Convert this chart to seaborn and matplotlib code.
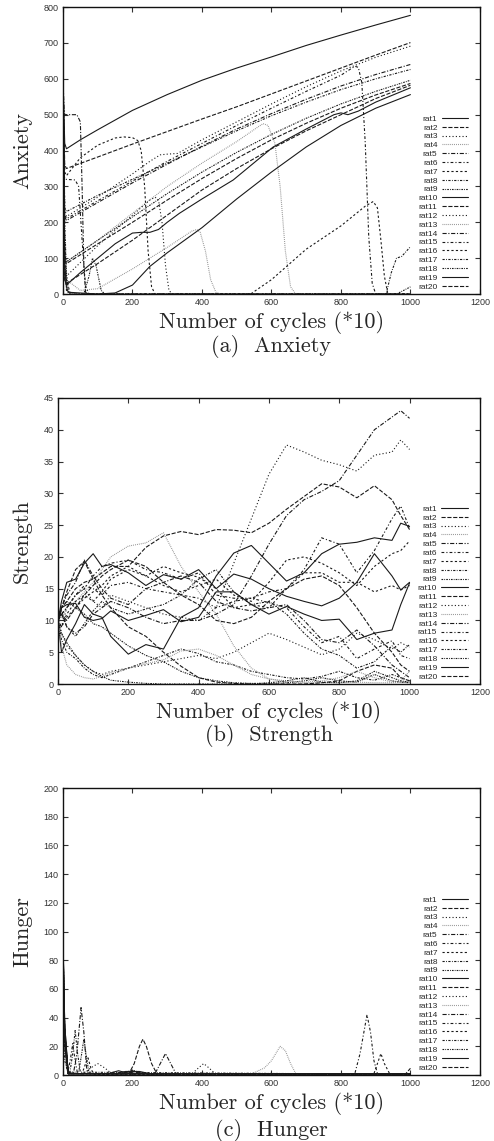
import matplotlib
matplotlib.use("Agg")
import matplotlib.pyplot as plt
import seaborn as sns

# ---------------- data ----------------
rats = ["rat%d" % i for i in range(1, 21)]

# (a) anxiety: per rat (x, y) lists
anxiety = {
    "rat1": ([0, 5, 10, 50, 100, 200, 300, 400, 500, 600, 700, 800, 900, 1000],
             [600, 420, 405, 430, 458, 512, 556, 596, 630, 661, 693, 722, 750, 777]),
    "rat2": ([0, 5, 10, 100, 200, 300, 400, 500, 600, 700, 800, 900, 1000],
             [600, 360, 350, 382, 418, 453, 488, 522, 558, 594, 630, 666, 701]),
    "rat3": ([0, 5, 10, 50, 100, 200, 250, 280, 300, 330, 400, 500, 600, 700, 800, 900, 1000],
             [600, 240, 216, 240, 270, 335, 370, 388, 390, 392, 430, 480, 530, 578, 622, 660, 691]),
    "rat4": ([0, 5, 10, 100, 200, 300, 400, 500, 560, 576, 590, 610, 625, 640, 655, 670, 1000],
             [600, 100, 90, 150, 225, 300, 365, 425, 465, 475, 470, 420, 300, 120, 20, 0, 0]),
    "rat5": ([0, 5, 10, 100, 200, 300, 400, 500, 600, 700, 800, 900, 1000],
             [600, 215, 205, 255, 310, 362, 412, 460, 503, 543, 580, 612, 640]),
    "rat6": ([0, 5, 10, 100, 200, 300, 400, 500, 600, 700, 800, 840, 850, 860, 870, 880, 890, 900, 1000],
             [600, 220, 210, 260, 315, 370, 420, 470, 518, 565, 610, 635, 632, 590, 420, 160, 30, 0, 0]),
    "rat7": ([0, 5, 10, 50, 100, 150, 175, 200, 215, 225, 235, 245, 255, 265, 1000],
             [600, 340, 330, 380, 415, 435, 438, 436, 428, 400, 300, 120, 20, 0, 0]),
    "rat8": ([0, 5, 10, 100, 200, 300, 400, 500, 600, 700, 800, 900, 1000],
             [600, 240, 230, 275, 320, 365, 410, 455, 497, 535, 570, 600, 626]),
    "rat9": ([0, 5, 10, 100, 200, 300, 400, 500, 600, 700, 800, 900, 1000],
             [600, 100, 90, 150, 215, 280, 340, 395, 445, 490, 530, 565, 596]),
    "rat10": ([0, 5, 10, 50, 100, 150, 200, 225, 250, 275, 300, 335, 400, 490, 605, 700, 780, 800, 820, 850, 900, 1000],
              [600, 40, 25, 60, 100, 140, 170, 172, 172, 180, 200, 225, 265, 318, 410, 460, 500, 505, 500, 510, 535, 575]),
    "rat11": ([0, 5, 10, 100, 200, 300, 400, 500, 600, 700, 800, 900, 1000],
              [600, 95, 85, 140, 200, 262, 322, 378, 430, 476, 518, 555, 587]),
    "rat12": ([0, 5, 10, 100, 200, 250, 265, 275, 285, 295, 305, 315, 1000],
              [600, 60, 50, 135, 220, 262, 270, 262, 200, 80, 10, 0, 0]),
    "rat13": ([0, 5, 10, 50, 100, 200, 300, 370, 385, 395, 410, 425, 440, 455, 1000],
              [600, 60, 40, 10, 15, 70, 130, 175, 180, 172, 120, 40, 5, 0, 0]),
    "rat14": ([0, 3, 5, 40, 50, 55, 60, 65, 70, 1000],
              [600, 520, 500, 500, 480, 300, 80, 5, 0, 0]),
    "rat15": ([0, 3, 5, 35, 45, 55, 65, 75, 1000],
              [600, 340, 320, 318, 300, 150, 20, 0, 0]),
    "rat16": ([0, 5, 10, 20, 30, 540, 600, 700, 800, 870, 893, 905, 915, 925, 935, 1000],
              [600, 150, 40, 5, 0, 0, 40, 125, 190, 245, 258, 240, 150, 50, 0, 0]),
    "rat17": ([0, 5, 10, 20, 930, 945, 960, 975, 1000],
              [600, 100, 10, 0, 0, 60, 100, 105, 132]),
    "rat18": ([0, 5, 10, 15, 20, 60, 75, 85, 95, 110, 120, 960, 1000],
              [600, 200, 60, 10, 0, 0, 50, 100, 80, 10, 0, 0, 20]),
    "rat19": ([0, 5, 10, 15, 100, 150, 200, 250, 300, 400, 500, 600, 700, 800, 900, 1000],
              [600, 80, 20, 5, 0, 3, 25, 77, 115, 185, 265, 340, 410, 470, 518, 556]),
    "rat20": ([0, 5, 10, 100, 200, 300, 400, 500, 600, 700, 800, 900, 1000],
              [600, 40, 30, 85, 150, 220, 290, 350, 405, 455, 500, 545, 582]),
}

# (b) strength: shared x grid
strength_x = [0, 10, 25, 50, 75, 100, 125, 150, 200, 250, 300, 350, 400, 450, 500,
              550, 600, 650, 700, 750, 800, 850, 900, 950, 975, 1000]
strength = {
    "rat1": [10, 13, 16, 16.5, 19, 20.5, 18.5, 18.8, 17.5, 15.5, 17.2, 16.5, 18, 15, 17.3, 16.5, 15, 13.8, 13, 12.3, 13.5, 16, 20.5, 17, 14.8, 16],
    "rat2": [10, 12, 13, 15, 16, 16.5, 17.5, 18.5, 18.5, 21.5, 23.3, 24, 23.5, 24.3, 24.2, 23.8, 25.3, 27.5, 29.5, 31.5, 31, 29.3, 31.2, 29, 26.5, 24.3],
    "rat3": [10, 9, 12, 14, 15, 13, 12, 14, 13, 12, 11, 10.5, 10, 12, 19, 26, 33, 37.6, 36.5, 35.2, 34.5, 33.5, 36, 36.5, 38.4, 36.9],
    "rat4": [10, 10.5, 12, 13, 14.5, 16, 18, 20, 21.7, 22.2, 23.8, 18.5, 14.5, 11, 6, 2.5, 0.8, 0.3, 0.2, 0.2, 0.2, 0.3, 0.2, 0.2, 0.3, 0.3],
    "rat5": [10, 12, 14, 16, 19.5, 17, 15, 13.5, 12.5, 15, 16, 17, 16, 13, 12, 11.5, 12, 12.5, 10, 7, 6.5, 8.5, 6, 3, 2, 1],
    "rat6": [10, 11, 12, 14, 15.5, 15, 14, 15.5, 16, 15, 14.5, 14, 13.5, 12, 13, 13.5, 14.5, 15, 18, 23, 22, 17.5, 21, 26, 28, 24.5],
    "rat7": [10, 9, 11, 13, 14, 13, 14.5, 16.5, 18, 17, 18.5, 17.5, 16.8, 15, 12, 12.5, 12, 15, 17.5, 17.5, 16, 16, 14.5, 15.5, 14.8, 15.5],
    "rat8": [10, 7, 5, 4, 2.5, 1.5, 1, 1.5, 2.5, 3.5, 4.5, 5.5, 4.8, 3.5, 3, 2, 1.5, 1, 0.8, 1.2, 2, 1, 0.6, 1.5, 1, 0.5],
    "rat9": [10, 12, 13, 12, 11, 9.5, 9, 8, 6, 4.5, 3.5, 2, 1, 0.5, 0.2, 0.1, 0.1, 0.2, 0.5, 1, 0.5, 0.3, 1.5, 0.5, 0.3, 0.2],
    "rat10": [10, 5, 7, 9.5, 12.5, 11, 10.5, 7.5, 4.7, 6.2, 5.5, 10.5, 12, 17, 20.6, 21.8, 19, 16.2, 17.5, 20.5, 22, 22.3, 23, 22.6, 25.3, 24.8],
    "rat11": [10, 12, 14.5, 18, 19.3, 16.5, 14, 12, 9, 7.5, 5, 2.8, 1, 0.3, 0.1, 0, 0, 0, 0, 0.2, 0.5, 2, 3, 2.5, 1, 0.5],
    "rat12": [10, 8, 6, 4.5, 3, 2, 1.5, 2, 2.5, 3, 3.5, 4, 4.5, 4, 5, 6.5, 8, 7, 5.8, 4.6, 5.5, 8, 7, 5.5, 6.5, 5.8],
    "rat13": [10, 6, 3, 1.5, 1, 0.8, 1.2, 1.8, 2.5, 3.2, 3.8, 5.2, 5.5, 4.5, 3, 1.5, 0.8, 0.5, 0.3, 0.5, 1, 2, 1, 0.3, 0.5, 2],
    "rat14": [10, 11, 9, 8, 9, 11, 12, 13, 12, 10.5, 9.5, 10, 10, 11, 12.5, 17, 22, 26.5, 29, 30.3, 32, 36, 40, 42, 43, 41.8],
    "rat15": [10, 11, 12, 14, 15, 17, 18.5, 19, 19.5, 18, 17.5, 16.5, 17.5, 14, 13.5, 13.5, 12.8, 12, 9, 6.5, 7.5, 4, 5.5, 6.8, 4.5, 4],
    "rat16": [10, 9, 10.5, 12, 13.5, 14.5, 15.5, 17, 18.5, 17, 15.5, 14.5, 15.5, 16.5, 14, 13, 16, 19.5, 20, 19, 17.5, 15.5, 18.5, 20.5, 21, 22.5],
    "rat17": [10, 11.5, 9, 7.5, 9.5, 11.5, 13, 12, 11, 11.8, 12.5, 14, 16.5, 18, 14.5, 12.5, 13, 11, 8, 5.5, 4.5, 2.5, 3.5, 6, 5, 6.2],
    "rat18": [10, 8, 6.5, 4.5, 3, 2, 1.2, 0.6, 0.3, 0.1, 0, 0, 0, 0, 0, 0, 0.2, 0.5, 1, 0.3, 0.2, 0.5, 2, 1, 0.5, 0.3],
    "rat19": [10, 12, 12.5, 12.7, 10.5, 10, 10.3, 11.5, 10, 10.8, 11.7, 9.8, 10.5, 14.5, 14.5, 12.5, 11, 12.2, 11, 10, 10.2, 7, 8, 8.5, 12.5, 15.9],
    "rat20": [10, 11, 10, 12, 14, 15.5, 17, 18, 19.5, 18.5, 16, 14, 12.5, 10, 9.5, 10.5, 13, 15, 16.5, 17, 15.5, 12, 8, 5, 3, 2],
}

# (c) hunger: per rat (x, y) lists
hunger = {
    "rat1": ([0, 5, 15, 150, 180, 220, 250, 1000], [95, 30, 1, 1, 2.5, 2.5, 1, 1]),
    "rat2": ([0, 5, 15, 190, 205, 220, 230, 240, 255, 270, 1000], [90, 30, 1, 1, 8, 20, 25, 20, 8, 1, 1]),
    "rat3": ([0, 5, 15, 60, 80, 100, 120, 140, 1000], [85, 25, 1, 1, 5, 8, 5, 1, 0.8]),
    "rat4": ([0, 5, 15, 540, 580, 600, 625, 640, 655, 670, 1000], [60, 20, 1, 0.5, 5, 10, 20, 17, 8, 1, 0.5]),
    "rat5": ([0, 5, 15, 30, 40, 52, 60, 68, 75, 1000], [92, 30, 2, 1, 15, 47, 30, 5, 1, 0.7]),
    "rat6": ([0, 5, 15, 840, 855, 875, 885, 895, 905, 1000], [70, 25, 1, 1, 15, 42, 30, 10, 1, 1]),
    "rat7": ([0, 5, 15, 895, 905, 915, 925, 940, 1000], [88, 30, 1, 1, 8, 15, 8, 1, 0.5]),
    "rat8": ([0, 5, 12, 20, 28, 35, 42, 50, 1000], [50, 20, 3, 2, 15, 31, 15, 2, 0.5]),
    "rat9": ([0, 5, 15, 45, 52, 60, 68, 75, 1000], [75, 25, 2, 2, 12, 25, 12, 1, 0.8]),
    "rat10": ([0, 5, 15, 170, 200, 230, 1000], [93, 35, 1, 1, 3, 1, 1]),
    "rat11": ([0, 5, 15, 985, 1000], [80, 25, 1, 0.5, 4.7]),
    "rat12": ([0, 5, 15, 370, 390, 405, 420, 440, 1000], [65, 20, 1, 0.5, 5, 8, 5, 0.5, 0.5]),
    "rat13": ([0, 5, 15, 1000], [40, 12, 1, 0.8]),
    "rat14": ([0, 5, 15, 265, 280, 295, 310, 325, 1000], [90, 30, 1, 1, 8, 15, 8, 1, 1]),
    "rat15": ([0, 5, 15, 22, 28, 35, 42, 1000], [55, 20, 3, 12, 22, 10, 1, 0.6]),
    "rat16": ([0, 5, 15, 55, 65, 72, 80, 88, 1000], [85, 30, 1, 1, 8, 12, 5, 0.5, 0.5]),
    "rat17": ([0, 5, 15, 170, 200, 230, 1000], [30, 10, 1, 1, 3.5, 1, 0.8]),
    "rat18": ([0, 5, 15, 1000], [70, 20, 1, 0.3]),
    "rat19": ([0, 5, 15, 130, 160, 190, 1000], [94, 35, 1, 1, 3, 1, 1]),
    "rat20": ([0, 5, 15, 1000], [78, 25, 1, 1]),
}

# ---------------- style ----------------
sns.set_style("ticks")
plt.rcParams["font.family"] = ["Liberation Sans", "DejaVu Sans"]
plt.rcParams["lines.scale_dashes"] = False

styles = [
    "-",
    (0, (3.0, 1.2)),
    (0, (0.8, 1.6)),
    (0, (0.6, 0.8)),
    (0, (3.0, 1.2, 0.8, 1.2)),
    (0, (2.0, 1.5, 0.8, 1.5)),
    (0, (1.6, 1.6)),
    (0, (1.6, 1.0, 0.6, 1.0)),
    (0, (1.2, 0.8, 0.6, 0.8)),
]


def rat_style(i):
    ls = styles[i % 9]
    col = "#8a8a8a" if i % 9 == 3 else "#1a1a1a"
    return ls, col


fig = plt.figure(figsize=(4.94, 11.41), dpi=100)
ax_a = fig.add_axes([0.1275, 0.7423, 0.844, 0.2515])
ax_b = fig.add_axes([0.1174, 0.4005, 0.854, 0.2507])
ax_c = fig.add_axes([0.1275, 0.0578, 0.844, 0.2515])

for i, r in enumerate(rats):
    ls, col = rat_style(i)
    xs, ys = anxiety[r]
    sns.lineplot(x=xs, y=ys, ax=ax_a, color=col, linestyle=ls, lw=0.8,
                 estimator=None, sort=False, label=r)
    sns.lineplot(x=strength_x, y=strength[r], ax=ax_b, color=col, linestyle=ls,
                 lw=0.8, estimator=None, sort=False, label=r)
    xs, ys = hunger[r]
    sns.lineplot(x=xs, y=ys, ax=ax_c, color=col, linestyle=ls, lw=0.8,
                 estimator=None, sort=False, label=r)

panels = [
    (ax_a, "Anxiety", 800, 100, -0.074),
    (ax_b, "Strength", 45, 5, -0.062),
    (ax_c, "Hunger", 200, 20, -0.074),
]
for ax, name, ymax, ystep, ylx in panels:
    ax.set_xlim(0, 1200)
    ax.set_ylim(0, ymax)
    ax.set_xticks(range(0, 1201, 200))
    ax.set_yticks(range(0, ymax + 1, ystep))
    ax.tick_params(direction="in", length=3.5, width=0.8, top=True, right=True,
                   labelsize=6.5, labelcolor="#333333", color="#333333", pad=3)
    for sp in ax.spines.values():
        sp.set_linewidth(1.0)
        sp.set_color("#111111")
    ax.set_ylabel(name, fontsize=16, family="cmr10")
    ax.yaxis.set_label_coords(ylx, 0.5)
    ax.set_xlabel("Number of cycles (*10)", fontsize=16, family="cmr10")
    ax.xaxis.set_label_coords(0.5, -0.059)
    ax.legend(loc="lower right", bbox_to_anchor=(0.972, 0.012), frameon=False,
              markerfirst=False, fontsize=6, handlelength=3.2, handletextpad=0.5,
              labelspacing=0.12, borderpad=0, borderaxespad=0)

fig.text(0.549, 0.6959, "(a)  Anxiety", ha="center", va="center", fontsize=16, family="cmr10")
fig.text(0.545, 0.3550, "(b)  Strength", ha="center", va="center", fontsize=16, family="cmr10")
fig.text(0.549, 0.0096, "(c)  Hunger", ha="center", va="center", fontsize=16, family="cmr10")

fig.savefig("out.png", dpi=100)
